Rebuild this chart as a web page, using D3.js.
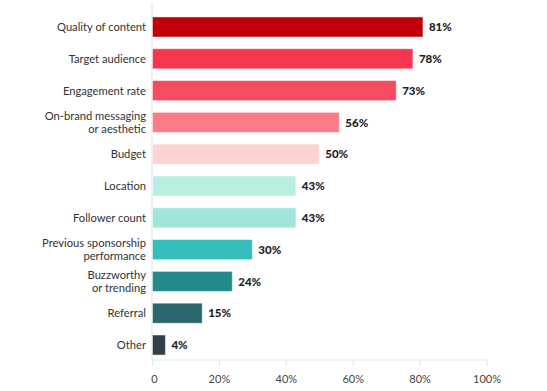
<!DOCTYPE html>
<html><head><meta charset="utf-8">
<script src="https://cdn.jsdelivr.net/npm/d3@7"></script>
<style>
body{margin:0;background:#fff;}
svg{display:block;}
</style></head>
<body>
<svg id="chart" width="547" height="391"></svg>
<script>
const categories = [
  ["Quality of content"],
  ["Target audience"],
  ["Engagement rate"],
  ["On-brand messaging","or aesthetic"],
  ["Budget"],
  ["Location"],
  ["Follower count"],
  ["Previous sponsorship","performance"],
  ["Buzzworthy","or trending"],
  ["Referral"],
  ["Other"]
];
const values = [81, 78, 73, 56, 50, 43, 43, 30, 24, 15, 4];
const colors = ["#c1000b","#f5364e","#f64c60","#fb7c88","#fdd2d0","#b9eee2","#a1e5da","#35bdbb","#238b8c","#2a666b","#2f404b"];
const tickValues = [0, 20, 40, 60, 80, 100];
const tickLabels = ["0", "20%", "40%", "60%", "80%", "100%"];

const svg = d3.select("#chart");
const font = "Lato, 'Open Sans', sans-serif";
const x = d3.scaleLinear().domain([0, 100]).range([152, 486.5]);
const y = d3.scaleBand().domain(d3.range(categories.length)).range([9, 363]).paddingInner(0.37).paddingOuter(0.25);
const axisY = 360;

// axis lines
svg.append("line").attr("x1", x(0)).attr("x2", x(0)).attr("y1", 4).attr("y2", axisY)
  .attr("stroke", "#e3eaea").attr("stroke-width", 1.2);
svg.append("line").attr("x1", x(0)).attr("x2", x(100)).attr("y1", axisY).attr("y2", axisY)
  .attr("stroke", "#e3eaea").attr("stroke-width", 1.2);

const xAxis = d3.axisBottom(x).tickValues(tickValues).tickSize(6).tickFormat((d,i) => tickLabels[i]);
const gx = svg.append("g").attr("transform", `translate(0,${axisY})`).call(xAxis);
gx.select(".domain").remove();
gx.selectAll(".tick line").attr("stroke", "#e3eaea").attr("stroke-width", 1.2);
gx.selectAll(".tick text").attr("fill", "#444").attr("font-family", font).attr("font-size", 11).attr("dy", "1.25em");
gx.selectAll(".tick").filter(d => d === 0).select("text").attr("dx", 2);

// bars
svg.selectAll("rect.bar").data(values).join("rect").attr("class", "bar")
  .attr("x", x(0) + 0.5)
  .attr("y", (d,i) => y(i))
  .attr("width", d => x(d) - x(0) - 0.5)
  .attr("height", y.bandwidth())
  .attr("fill", (d,i) => colors[i])
  .attr("stroke", "rgba(255,255,255,0.45)").attr("stroke-width", 1);

// value labels
svg.selectAll("text.val").data(values).join("text").attr("class", "val")
  .attr("x", d => x(d) + 6)
  .attr("y", (d,i) => y(i) + y.bandwidth()/2)
  .attr("dy", "0.36em")
  .attr("font-family", font).attr("font-weight", 900).attr("font-size", 11.5)
  .attr("fill", "#1e1e1e")
  .text(d => d + "%");

// category labels
const lab = svg.selectAll("text.cat").data(categories).join("text").attr("class", "cat")
  .attr("text-anchor", "end")
  .attr("font-family", font).attr("font-size", 11.2).attr("fill", "#333");
lab.each(function(lines, i) {
  const t = d3.select(this);
  const cy = y(i) + y.bandwidth()/2;
  const lh = 13.5;
  lines.forEach((ln, k) => {
    t.append("tspan").attr("x", 146)
      .attr("y", cy + (k - (lines.length - 1)/2) * lh)
      .attr("dy", "0.36em").text(ln);
  });
});
</script>
</body></html>
